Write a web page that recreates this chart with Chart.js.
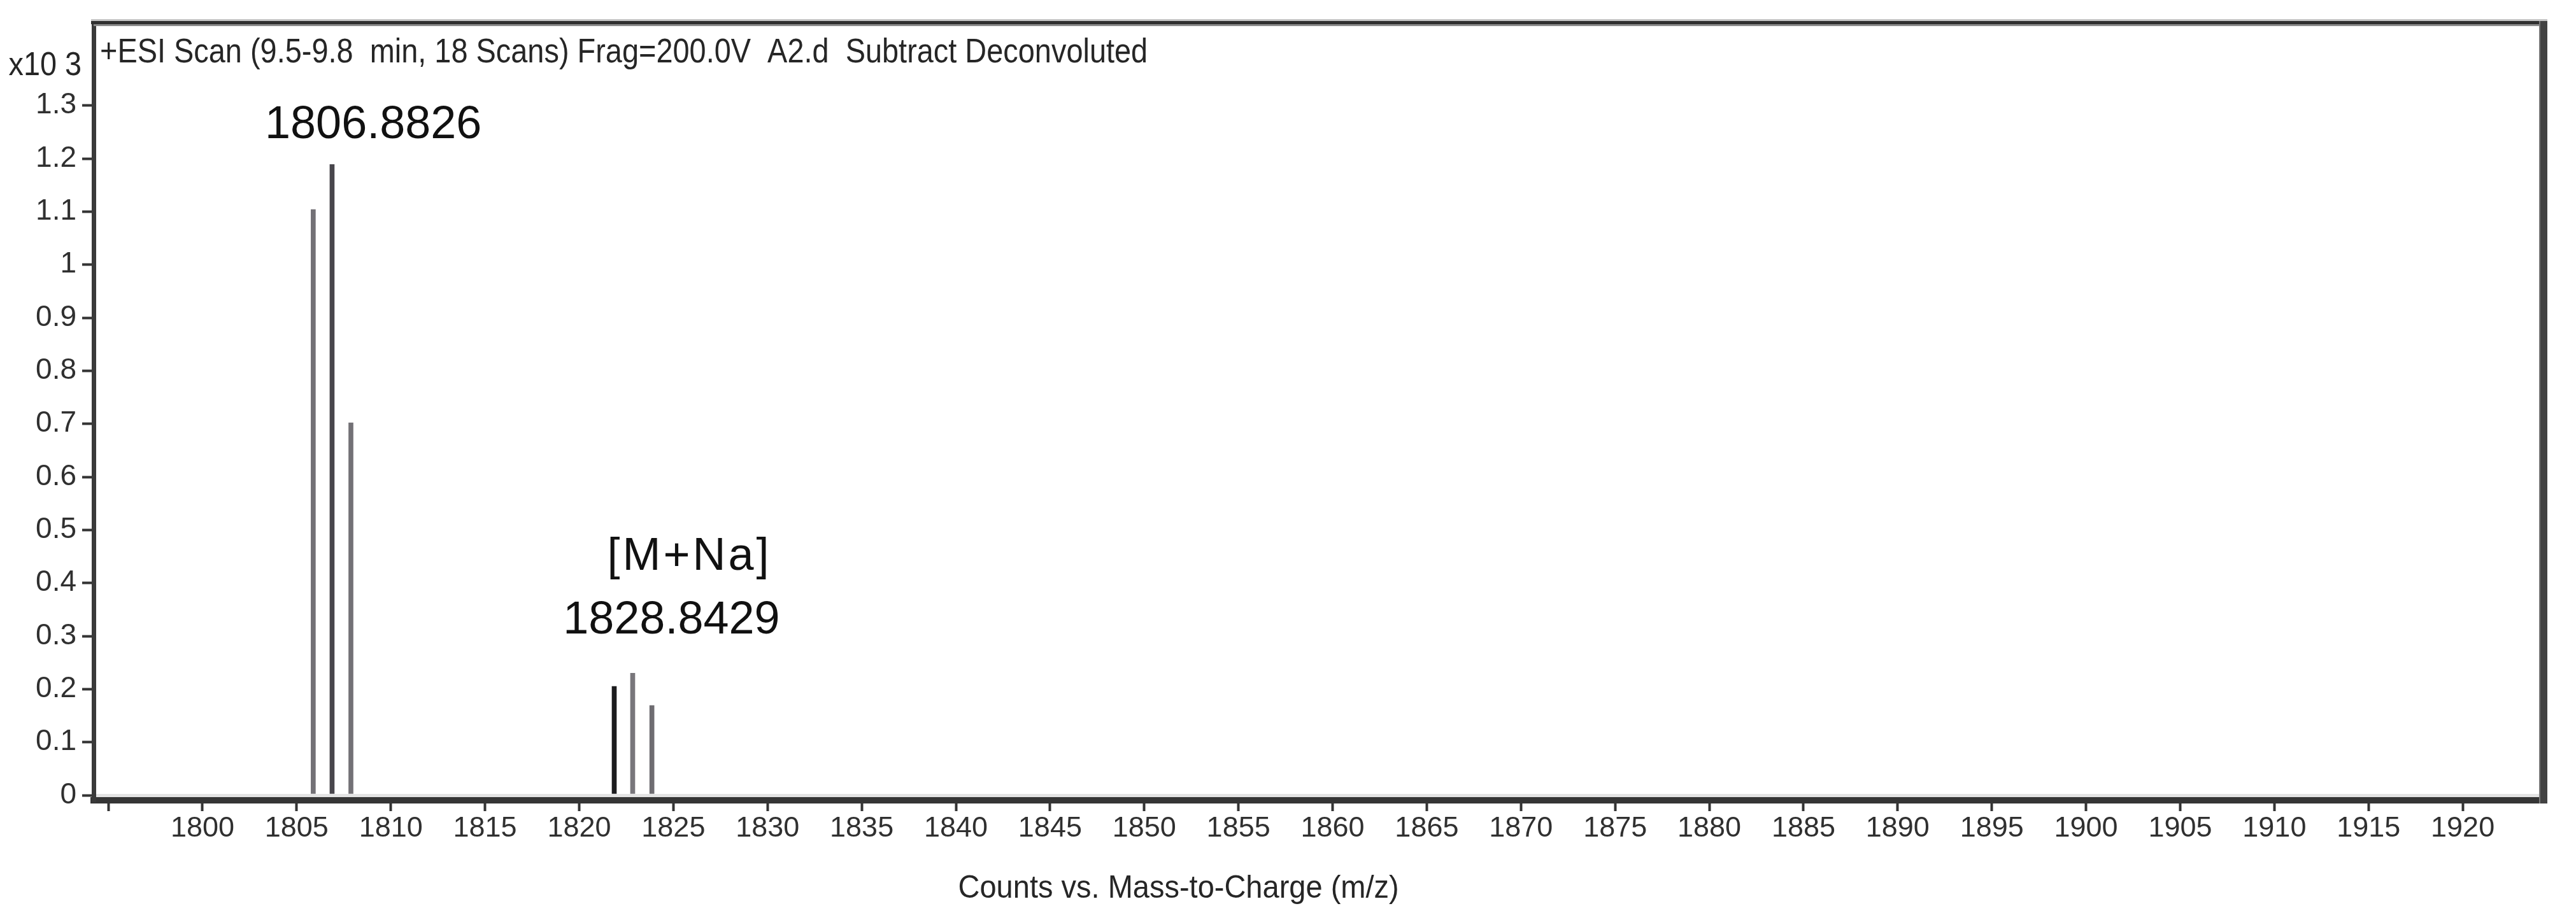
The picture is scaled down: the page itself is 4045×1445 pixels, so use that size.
<!DOCTYPE html>
<html><head><meta charset="utf-8">
<script src="https://cdn.jsdelivr.net/npm/chart.js@4.4.1/dist/chart.umd.min.js"></script>
<style>html,body{margin:0;padding:0;background:#fff}canvas{display:block}</style>
</head><body>
<canvas id="c" width="4045" height="1445" style="width:4045px;height:1445px"></canvas>
<script>
// ---- data ----
const peakMz = [1805.88, 1806.88, 1807.88, 1821.86, 1822.84, 1823.86];
const peakCounts = [1.104, 1.189, 0.702, 0.205, 0.230, 0.169];
const xTickValues = [1795,1800,1805,1810,1815,1820,1825,1830,1835,1840,1845,1850,1855,1860,1865,1870,1875,1880,1885,1890,1895,1900,1905,1910,1915,1920];
const xTickLabels = ['','1800','1805','1810','1815','1820','1825','1830','1835','1840','1845','1850','1855','1860','1865','1870','1875','1880','1885','1890','1895','1900','1905','1910','1915','1920'];
const yTickValues = [0,0.1,0.2,0.3,0.4,0.5,0.6,0.7,0.8,0.9,1.0,1.1,1.2,1.3];
const yTickLabels = ['0','0.1','0.2','0.3','0.4','0.5','0.6','0.7','0.8','0.9','1','1.1','1.2','1.3'];
const labelTexts = ['1806.8826', '[M+Na]', '1828.8429'];
const labelMz = [1809.07, 1825.85, 1824.9];
const labelCounts = [1.2385, 0.4248, 0.3048];
const chartTitle = '+ESI Scan (9.5-9.8  min, 18 Scans) Frag=200.0V  A2.d  Subtract Deconvoluted';
const xAxisTitle = 'Counts vs. Mass-to-Charge (m/z)';
const yAxisUnit = 'x10 3';
const xMin = 1794.22, xMax = 1924.29, yMin = -0.0096, yMax = 1.4509;

// ---- style ----
const FONT = '"Liberation Sans", Arial, sans-serif';
const barColors = ['#737176', '#48464c', '#737176', '#1c1c1e', '#78767b', '#6e6c71'];
const labelLetterSpacing = ['0px', '4px', '0px'];

function narrowText(ctx, text, x, y, size, align, sx) {
  ctx.save();
  ctx.translate(x, y);
  ctx.scale(sx, 1);
  ctx.font = size + 'px ' + FONT;
  ctx.textAlign = align;
  ctx.textBaseline = 'alphabetic';
  ctx.fillText(text, 0, 0);
  ctx.restore();
}

const framePlugin = {
  id: 'frame',
  afterDraw(chart) {
    const {ctx, chartArea: a, scales} = chart;
    ctx.save();
    // top border
    ctx.fillStyle = '#c6c6c6'; ctx.fillRect(a.left - 4, a.top - 10, a.right - a.left + 10, 3);
    ctx.fillStyle = '#2f2f2f'; ctx.fillRect(a.left - 4, a.top - 7, a.right - a.left + 10, 5);
    ctx.fillStyle = '#8c8c8c'; ctx.fillRect(a.left, a.top - 2, a.right - a.left, 3);
    // right border
    ctx.fillStyle = '#7a7a7a'; ctx.fillRect(a.right - 7, a.top - 7, 2, a.bottom - a.top + 12);
    ctx.fillStyle = '#424242'; ctx.fillRect(a.right - 5, a.top - 7, 11, a.bottom - a.top + 12);
    // texts
    ctx.fillStyle = '#262626';
    narrowText(ctx, chartTitle, a.left + 10, a.top + 58, 53, 'left', 0.885);
    narrowText(ctx, yAxisUnit, a.left - 19, a.top + 78, 52, 'right', 0.9);
    narrowText(ctx, xAxisTitle, chart.width * 0.4575, chart.height - 35, 50, 'center', 0.94);
    // peak annotations
    ctx.fillStyle = '#111';
    ctx.font = '72px ' + FONT;
    ctx.textAlign = 'center';
    ctx.textBaseline = 'alphabetic';
    for (let i = 0; i < labelTexts.length; i++) {
      ctx.letterSpacing = labelLetterSpacing[i];
      ctx.fillText(labelTexts[i], scales.x.getPixelForValue(labelMz[i]), scales.y.getPixelForValue(labelCounts[i]));
    }
    ctx.letterSpacing = '0px';
    ctx.restore();
  }
};

new Chart(document.getElementById('c'), {
  type: 'bar',
  data: {
    datasets: [{
      data: peakMz.map((m, i) => ({x: m, y: peakCounts[i]})),
      backgroundColor: barColors,
      borderWidth: 0,
      barThickness: 7
    }]
  },
  options: {
    responsive: false,
    animation: false,
    devicePixelRatio: 1,
    layout: {padding: {top: 40, right: 51, left: 0, bottom: 0}},
    plugins: {legend: {display: false}, tooltip: {enabled: false}, title: {display: false}},
    scales: {
      x: {
        type: 'linear',
        min: xMin, max: xMax,
        offset: false,
        afterFit(s) { s.height = 188; },
        afterBuildTicks(s) { s.ticks = xTickValues.map(v => ({value: v})); },
        border: {display: true, color: '#353535', width: 10},
        grid: {offset: false, drawOnChartArea: false, drawTicks: true, tickLength: 17, tickWidth: 4, tickColor: '#333', color: '#333'},
        ticks: {
          autoSkip: false, maxRotation: 0, padding: 1,
          color: '#303030',
          font: {family: FONT, size: 45},
          callback: (v, i) => xTickLabels[i]
        }
      },
      y: {
        type: 'linear',
        min: yMin, max: yMax,
        afterFit(s) { s.width = 147; },
        afterBuildTicks(s) { s.ticks = yTickValues.map(v => ({value: v})); },
        border: {display: true, color: '#3a3a3a', width: 7},
        grid: {
          offset: false,
          drawOnChartArea: true, drawTicks: true, tickLength: 18, tickWidth: 4, tickColor: '#333',
          color: c => (c.tick && c.tick.value === 0) ? '#e4e4e4' : 'rgba(0,0,0,0)',
          lineWidth: c => (c.tick && c.tick.value === 0) ? 5 : 1
        },
        ticks: {
          autoSkip: false, padding: 9,
          color: '#303030',
          font: {family: FONT, size: 46},
          callback: (v, i) => yTickLabels[i]
        }
      }
    }
  },
  plugins: [framePlugin]
});
</script>
</body></html>
